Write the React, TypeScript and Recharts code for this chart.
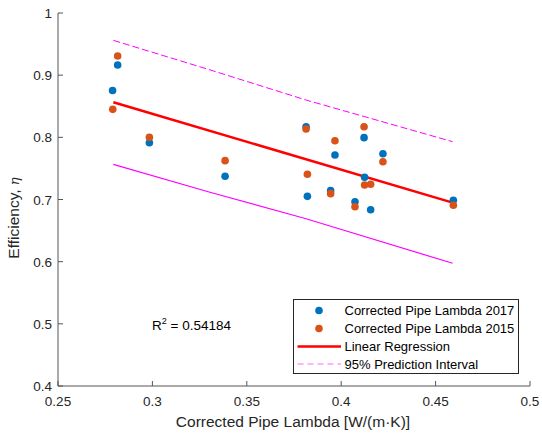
import React from 'react';
import { ComposedChart, Scatter, Line, XAxis, YAxis } from 'recharts';

const lambda2017 = [0.2789, 0.2816, 0.2984, 0.3385, 0.3814, 0.3821, 0.3967, 0.3944, 0.4121, 0.4221, 0.4124, 0.4073, 0.4156, 0.4594];
const eff2017 = [0.8753, 0.9164, 0.7914, 0.7373, 0.8171, 0.7051, 0.7716, 0.7142, 0.7995, 0.7737, 0.7357, 0.6965, 0.6836, 0.6987];
const lambda2015 = [0.279, 0.2816, 0.2984, 0.3385, 0.3814, 0.3821, 0.3967, 0.3944, 0.4121, 0.4221, 0.4124, 0.4156, 0.4073, 0.4594];
const eff2015 = [0.845, 0.9308, 0.8, 0.7625, 0.8134, 0.7405, 0.7946, 0.7094, 0.8171, 0.7608, 0.7233, 0.7245, 0.6884, 0.6907];
const fitX = [0.2793, 0.459];
const fitY = [0.8564, 0.6949];
const piX = [0.2793, 0.33, 0.3814, 0.459];
const piUpper = [0.956, 0.909, 0.86, 0.793];
const piLower = [0.7566, 0.712, 0.669, 0.5974];
const xTicks = [0.25, 0.3, 0.35, 0.4, 0.45, 0.5];
const yTicks = [0.4, 0.5, 0.6, 0.7, 0.8, 0.9, 1];
const seriesNames = ['Corrected Pipe Lambda 2017', 'Corrected Pipe Lambda 2015', 'Linear Regression', '95% Prediction Interval'];
const rSquared = '0.54184';

const BLUE = '#0072BD';
const ORANGE = '#D95319';
const FONT = '"Liberation Sans", Arial, Helvetica, sans-serif';
const AXIS = '#555555';
const TXT = '#262626';

const zip = (xs: number[], ys: number[]) => xs.map((x, i) => ({ x, y: ys[i] }));
const d2017 = zip(lambda2017, eff2017);
const d2015 = zip(lambda2015, eff2015);
const dFit = zip(fitX, fitY);
const dUp = zip(piX, piUpper);
const dLo = zip(piX, piLower);

const dot = (color: string) => (props: any) => (
  <circle cx={props.cx} cy={props.cy} r={3.8} fill={color} />
);

const XTick = (props: any) => {
  const { x, y, payload } = props;
  return (
    <g>
      <line x1={x} y1={y} x2={x} y2={y - 5} stroke={AXIS} strokeWidth={1} />
      <text x={x} y={y + 20} textAnchor="middle" fontSize={13.5} fill={TXT} fontFamily={FONT}>
        {String(payload.value)}
      </text>
    </g>
  );
};

const YTick = (props: any) => {
  const { x, y, payload } = props;
  return (
    <g>
      <line x1={x} y1={y} x2={x + 5} y2={y} stroke={AXIS} strokeWidth={1} />
      <text x={x - 6} y={y + 5} textAnchor="end" fontSize={13.5} fill={TXT} fontFamily={FONT}>
        {String(payload.value)}
      </text>
    </g>
  );
};

const LegendBox = () => (
  <div
    style={{
      position: 'absolute',
      left: 293,
      top: 299,
      width: 226,
      height: 75,
      border: '1px solid #262626',
      background: '#fff',
      boxSizing: 'border-box',
    }}
  >
    <svg width={226} height={75} style={{ position: 'absolute', left: -1, top: -1 }}>
      <circle cx={26} cy={11.5} r={3.8} fill={BLUE} />
      <circle cx={26} cy={29.5} r={3.8} fill={ORANGE} />
      <line x1={4.5} y1={47.5} x2={48} y2={47.5} stroke="#FF0000" strokeWidth={2.5} />
      <line x1={4.5} y1={65} x2={48} y2={65} stroke="#FF66FF" strokeWidth={1} strokeDasharray="6 4" />
      {seriesNames.map((n, i) => (
        <text key={n} x={51.5} y={[16, 34, 52, 69.5][i]} fontSize={13} fill="#000" fontFamily={FONT}>
          {n}
        </text>
      ))}
    </svg>
  </div>
);

export default function App() {
  return (
    <div style={{ position: 'absolute', left: 0, top: 0, width: 542, height: 437, background: '#fff' }}>
      <ComposedChart width={542} height={437} margin={{ top: 13, right: 12, bottom: 0, left: 0 }}>
        <XAxis
          type="number"
          dataKey="x"
          domain={[0.25, 0.5]}
          ticks={xTicks}
          allowDataOverflow
          height={51}
          stroke={AXIS}
          tickLine={false}
          tickSize={0}
          tickMargin={0}
          tick={<XTick />}
          interval={0}
        />
        <YAxis
          type="number"
          dataKey="y"
          domain={[0.4, 1]}
          ticks={yTicks}
          allowDataOverflow
          width={58}
          stroke={AXIS}
          tickLine={false}
          tickSize={0}
          tickMargin={0}
          tick={<YTick />}
          interval={0}
        />
        <Scatter name={seriesNames[0]} data={d2017} fill={BLUE} shape={dot(BLUE)} isAnimationActive={false} />
        <Scatter name={seriesNames[1]} data={d2015} fill={ORANGE} shape={dot(ORANGE)} isAnimationActive={false} />
        <Line name={seriesNames[2]} data={dFit} dataKey="y" stroke="#FF0000" strokeWidth={2.5} dot={false} isAnimationActive={false} />
        <Line name={seriesNames[3]} data={dUp} dataKey="y" stroke="#FF00FF" strokeWidth={1} strokeDasharray="7 3" dot={false} isAnimationActive={false} />
        <Line name="lower" legendType="none" data={dLo} dataKey="y" stroke="#FF00FF" strokeWidth={1.2} dot={false} isAnimationActive={false} />
      </ComposedChart>
      <LegendBox />
      <div
        style={{
          position: 'absolute',
          left: 0,
          top: 413,
          width: 600,
          textAlign: 'center',
          fontFamily: FONT,
          fontSize: 15.5,
          lineHeight: '18px',
          color: TXT,
          whiteSpace: 'nowrap',
          transform: 'translateX(-7px)',
        }}
      >
        Corrected Pipe Lambda [W/(m·K)]
      </div>
      <div
        style={{
          position: 'absolute',
          left: 14,
          top: 218,
          transform: 'translate(-50%, -50%) rotate(-90deg)',
          fontFamily: FONT,
          fontSize: 15.5,
          lineHeight: '18px',
          color: TXT,
          whiteSpace: 'nowrap',
        }}
      >
        Efficiency, <span style={{ fontStyle: 'italic', fontFamily: '"DejaVu Serif", serif', fontSize: 13 }}>η</span>
      </div>
      <div
        style={{
          position: 'absolute',
          left: 152,
          top: 316,
          fontFamily: FONT,
          fontSize: 13.5,
          color: '#000',
          whiteSpace: 'nowrap',
        }}
      >
        R<sup style={{ fontSize: 9, verticalAlign: 6 }}>2</sup> = {rSquared}
      </div>
    </div>
  );
}
